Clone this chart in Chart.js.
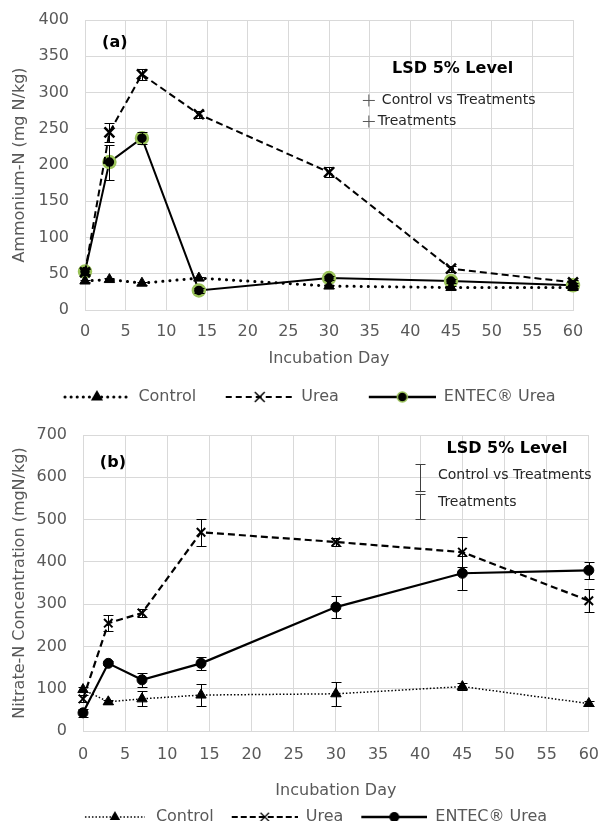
<!DOCTYPE html>
<html lang="en">
<head>
<meta charset="UTF-8">
<title>Ammonium-N and Nitrate-N during incubation</title>
<script src="https://cdn.jsdelivr.net/npm/chart.js"></script>
<style>
    html, body { margin: 0; padding: 0; background: #fff; overflow: hidden; }
    body { width: 613px; height: 821px; position: relative; }
    .box { position: absolute; left: 0; width: 613px; }
    #boxA { top: 0; height: 415px; }
    #boxB { top: 412px; height: 423px; }
</style>
</head>
<body>
<div class="box" id="boxA"><canvas id="chartA"></canvas></div>
<div class="box" id="boxB"><canvas id="chartB"></canvas></div>

<script>
// sampling days (x values)
const days = [0, 3, 7, 14, 30, 45, 60];
const seriesNames = ["Control", "Urea", "ENTEC® Urea"];

// (a) Ammonium-N, mg N/kg
const ammControl = [40, 42, 37, 44, 33, 31, 31];
const ammUrea    = [52, 245, 325, 270, 190, 57, 38];
const ammEntec   = [53, 204, 237, 27, 44, 40, 34];
const ammControlErr = [2, 2, 2, 2, 2, 2, 2];
const ammUreaErr    = [4, 13, 8, 5, 7, 4, 3];
const ammEntecErr   = [4, 24, 8, 3, 3, 3, 3];
// LSD 5% markers in (a): [day, value]
const ammLsd = [[34.9, 289], [34.9, 260]];

// (b) Nitrate-N, mgN/kg
const nitControl = [98, 69, 76, 85, 88, 105, 65];
const nitUrea    = [76, 255, 279, 470, 447, 423, 308];
const nitEntec   = [43, 160, 121, 160, 293, 373, 380];
const nitControlErr = [5, 4, 18, 25, 28, 8, 5];
const nitUreaErr    = [8, 19, 10, 32, 10, 35, 27];
const nitEntecErr   = [10, 5, 17, 15, 26, 40, 20];
// LSD 5% bars in (b): [day, centre, half-length]
const nitLsd = [[40, 599, 32], [40, 531, 29]];

// axis settings
const ammYMax = 400, ammYStep = 50;
const nitYMax = 700, nitYStep = 100;
const xMax = 60, xStep = 5;

// text notes, placed in data units: [text, day, value, font, align]
const ammNotes = [
    ["(a)", 2.1, 369, "bold 16px 'DejaVu Sans'", "left"],
    ["LSD 5% Level", 45.2, 333, "bold 16px 'DejaVu Sans'", "center"],
    ["Control vs Treatments", 36.5, 289, "14px 'DejaVu Sans'", "left"],
    ["Treatments", 36.0, 260, "14px 'DejaVu Sans'", "left"]
];
const nitNotes = [
    ["(b)", 2.0, 633, "bold 16px 'DejaVu Sans'", "left"],
    ["LSD 5% Level", 50.3, 667, "bold 16px 'DejaVu Sans'", "center"],
    ["Control vs Treatments", 42.1, 605, "14px 'DejaVu Sans'", "left"],
    ["Treatments", 42.1, 540, "14px 'DejaVu Sans'", "left"]
];

const GRID = "#d9d9d9";
const TEXT = "#595959";
const GREEN = "#9bc35a";

Chart.defaults.font.family = "'DejaVu Sans', sans-serif";
Chart.defaults.font.size = 16;
Chart.defaults.color = TEXT;

function pts(values) {
    return values.map((v, i) => ({ x: days[i], y: v }));
}

// draws the error bars kept on each dataset
const errorBars = {
    id: "errorBars",
    afterDatasetsDraw(chart) {
        const { ctx, scales: { x, y } } = chart;
        ctx.save();
        chart.data.datasets.forEach((ds, i) => {
            if (!ds.errors || !chart.isDatasetVisible(i)) return;
            ctx.strokeStyle = ds.errorColor || "#000";
            ctx.lineWidth = 1;
            ds.data.forEach((p, j) => {
                const e = ds.errors[j];
                if (!e) return;
                const px = Math.round(x.getPixelForValue(p.x)) + 0.5;
                const top = Math.round(y.getPixelForValue(p.y + e)) + 0.5;
                const bot = Math.round(y.getPixelForValue(p.y - e)) + 0.5;
                ctx.beginPath();
                ctx.moveTo(px, top); ctx.lineTo(px, bot);
                ctx.moveTo(px - 5, top); ctx.lineTo(px + 5, top);
                ctx.moveTo(px - 5, bot); ctx.lineTo(px + 5, bot);
                ctx.stroke();
            });
        });
        ctx.restore();
    }
};

function makeNotes(items) {
    return {
        id: "notes",
        afterDraw(chart) {
            const { ctx, scales: { x, y } } = chart;
            ctx.save();
            ctx.textBaseline = "middle";
            items.forEach(([text, dx, dy, font, align]) => {
                ctx.font = font;
                ctx.textAlign = align;
                ctx.fillStyle = font.startsWith("bold") ? "#000" : "#262626";
                ctx.fillText(text, x.getPixelForValue(dx), y.getPixelForValue(dy));
            });
            ctx.restore();
        }
    };
}

// little line + marker picture for the legend
function legendIcon(o) {
    const c = document.createElement("canvas");
    c.width = o.lead + o.len;
    c.height = 16;
    const g = c.getContext("2d");
    const cy = 8, cx = o.lead + o.len / 2;
    g.strokeStyle = "#000";
    g.lineWidth = o.lineWidth;
    g.lineCap = o.cap || "butt";
    g.setLineDash(o.dash);
    g.beginPath();
    g.moveTo(o.lead, cy); g.lineTo(c.width, cy);
    g.stroke();
    g.setLineDash([]);
    g.lineCap = "butt";
    const r = o.r;
    if (o.marker === "triangle") {
        g.fillStyle = "#000";
        g.beginPath();
        g.moveTo(cx, cy - r);
        g.lineTo(cx + r * 0.866, cy + r / 2);
        g.lineTo(cx - r * 0.866, cy + r / 2);
        g.closePath();
        g.fill();
    } else if (o.marker === "crossRot") {
        const d = r * 0.7071;
        g.lineWidth = o.markLine;
        g.beginPath();
        g.moveTo(cx - d, cy - d); g.lineTo(cx + d, cy + d);
        g.moveTo(cx + d, cy - d); g.lineTo(cx - d, cy + d);
        g.stroke();
    } else {
        g.fillStyle = "#000";
        g.beginPath();
        g.arc(cx, cy, r, 0, Math.PI * 2);
        g.fill();
        if (o.ring) {
            g.strokeStyle = o.ring;
            g.lineWidth = 1.5;
            g.stroke();
        }
    }
    return c;
}

function legendLabels(icons) {
    return () => seriesNames.map((name, i) => ({
        text: name,
        pointStyle: icons[i],
        fontColor: TEXT,
        hidden: false,
        datasetIndex: i,
        lineWidth: 0
    }));
}

function axes(yMax, yStep, opt) {
    return {
        x: {
            type: "linear", min: 0, max: xMax,
            ticks: { stepSize: xStep, padding: opt.tickPad, color: TEXT },
            grid: { color: GRID, drawTicks: false },
            border: { color: GRID },
            title: { display: true, text: "Incubation Day", color: TEXT, padding: { top: 0, bottom: opt.titlePad } },
            afterFit: s => { s.height = opt.xHeight; }
        },
        y: {
            min: 0, max: yMax,
            ticks: { stepSize: yStep, padding: 16, color: TEXT },
            grid: { color: GRID, drawTicks: false },
            border: { color: GRID },
            title: { display: true, text: opt.yTitle, color: TEXT, padding: { top: 10, bottom: 0 } },
            afterFit: s => { s.width = opt.yWidth; s.paddingTop = 0; s.paddingBottom = 0; }
        },
        yR: {
            position: "right",
            display: true,
            ticks: { display: false },
            grid: { display: false },
            border: { display: false },
            afterFit: s => { s.width = opt.rightGap; s.paddingTop = 0; s.paddingBottom = 0; }
        }
    };
}

// ---------- (a) Ammonium ----------
const iconsA = [
    legendIcon({ lead: 26, len: 64, dash: [0.1, 6], cap: "round", lineWidth: 3, marker: "triangle", r: 7 }),
    legendIcon({ lead: 26, len: 68, dash: [6, 4], lineWidth: 2, marker: "crossRot", r: 7, markLine: 1.5 }),
    legendIcon({ lead: 26, len: 67, dash: [], lineWidth: 2.5, marker: "circle", r: 5, ring: GREEN })
];

new Chart(document.getElementById("chartA"), {
    type: "line",
    data: {
        datasets: [
            {
                label: "Control", data: pts(ammControl), errors: ammControlErr,
                borderColor: "#000", backgroundColor: "#000", borderWidth: 3,
                borderDash: [0.1, 7], borderCapStyle: "round",
                pointStyle: "triangle", pointRadius: 6, pointBorderWidth: 1, clip: false
            },
            {
                label: "Urea", data: pts(ammUrea), errors: ammUreaErr,
                borderColor: "#000", backgroundColor: "#000", borderWidth: 2,
                borderDash: [7, 4],
                pointStyle: "crossRot", pointRadius: 7, pointBorderWidth: 2.5, clip: false
            },
            {
                label: "ENTEC® Urea", data: pts(ammEntec), errors: ammEntecErr,
                borderColor: "#000", backgroundColor: "#000", borderWidth: 2,
                pointStyle: "circle", pointRadius: 6, pointBorderWidth: 2.5,
                pointBorderColor: GREEN, pointBackgroundColor: "#000", clip: false
            },
            {
                label: "LSD", data: ammLsd.map(([d, v]) => ({ x: d, y: v })),
                showLine: false, borderColor: TEXT, backgroundColor: TEXT,
                pointStyle: "cross", pointRadius: 6, pointBorderWidth: 1
            }
        ]
    },
    options: {
        responsive: true,
        maintainAspectRatio: false,
        animation: false,
        layout: { padding: { top: 20, left: 0, right: 20, bottom: 0 } },
        scales: axes(ammYMax, ammYStep, {
            yTitle: "Ammonium-N (mg N/kg)", yWidth: 85, rightGap: 20,
            xHeight: 75, tickPad: 12, titlePad: 17
        }),
        plugins: {
            legend: {
                position: "bottom",
                labels: {
                    usePointStyle: true, pointStyleWidth: 93, padding: 4,
                    color: TEXT, generateLabels: legendLabels(iconsA)
                }
            },
            tooltip: { enabled: false }
        }
    },
    plugins: [errorBars, makeNotes(ammNotes)]
});

// ---------- (b) Nitrate ----------
const iconsB = [
    legendIcon({ lead: 16, len: 60, dash: [1.5, 2], lineWidth: 1.5, marker: "triangle", r: 6 }),
    legendIcon({ lead: 16, len: 66, dash: [6, 3], lineWidth: 2, marker: "crossRot", r: 6, markLine: 1.2 }),
    legendIcon({ lead: 16, len: 66, dash: [], lineWidth: 2.5, marker: "circle", r: 5 })
];

new Chart(document.getElementById("chartB"), {
    type: "line",
    data: {
        datasets: [
            {
                label: "Control", data: pts(nitControl), errors: nitControlErr,
                borderColor: "#000", backgroundColor: "#000", borderWidth: 1.5,
                borderDash: [1.5, 2],
                pointStyle: "triangle", pointRadius: 6, pointBorderWidth: 1, clip: false
            },
            {
                label: "Urea", data: pts(nitUrea), errors: nitUreaErr,
                borderColor: "#000", backgroundColor: "#000", borderWidth: 2.2,
                borderDash: [7, 4],
                pointStyle: "crossRot", pointRadius: 6, pointBorderWidth: 2, clip: false
            },
            {
                label: "ENTEC® Urea", data: pts(nitEntec), errors: nitEntecErr,
                borderColor: "#000", backgroundColor: "#000", borderWidth: 2.2,
                pointStyle: "circle", pointRadius: 5, pointBorderWidth: 1, clip: false
            },
            {
                label: "LSD", data: nitLsd.map(([d, v]) => ({ x: d, y: v })),
                errors: nitLsd.map(r => r[2]), errorColor: "#404040",
                showLine: false, pointRadius: 0
            }
        ]
    },
    options: {
        responsive: true,
        maintainAspectRatio: false,
        animation: false,
        layout: { padding: { top: 23, left: 0, right: 0, bottom: 0 } },
        scales: axes(nitYMax, nitYStep, {
            yTitle: "Nitrate-N Concentration (mgN/kg)", yWidth: 83, rightGap: 11,
            xHeight: 76, tickPad: 14, titlePad: 7
        }),
        plugins: {
            legend: {
                position: "bottom",
                labels: {
                    usePointStyle: true, pointStyleWidth: 82, padding: 2,
                    color: TEXT, generateLabels: legendLabels(iconsB)
                }
            },
            tooltip: { enabled: false }
        }
    },
    plugins: [errorBars, makeNotes(nitNotes)]
});
</script>
</body>
</html>
